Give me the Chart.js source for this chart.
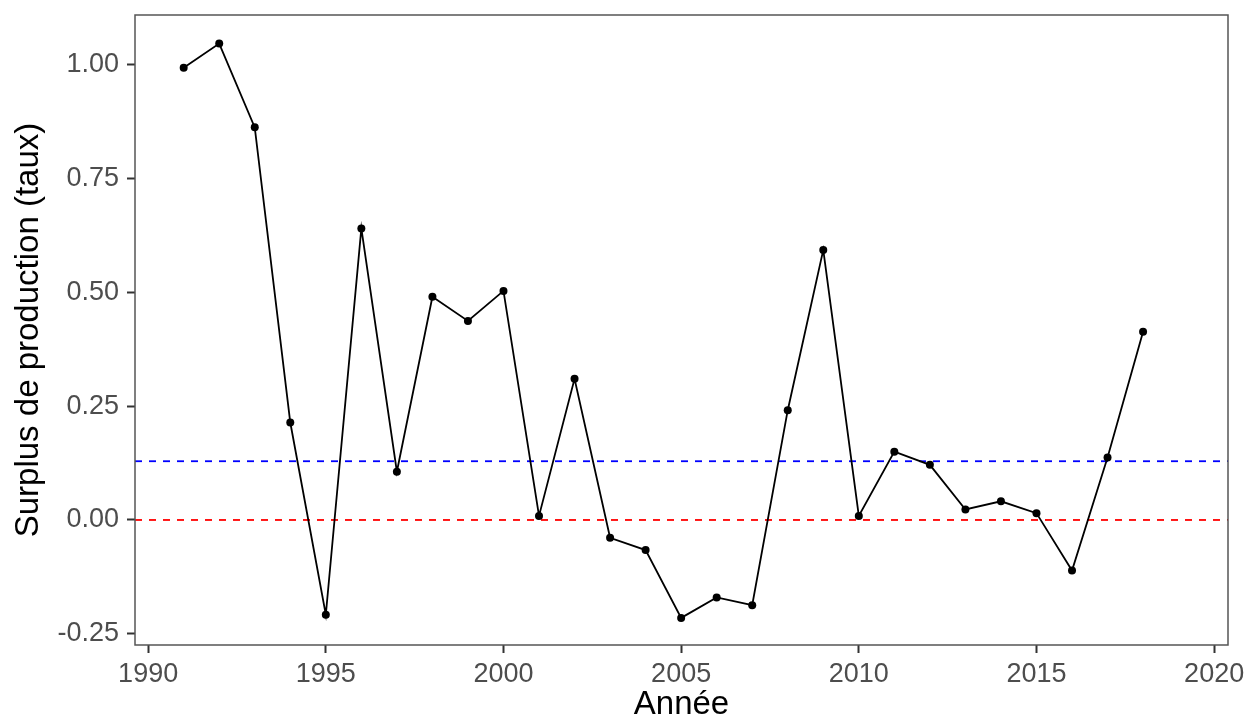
<!DOCTYPE html>
<html lang="fr">
<head>
<meta charset="utf-8">
<title>Surplus de production</title>
<script src="https://cdn.jsdelivr.net/npm/chart.js@4.4.1/dist/chart.umd.min.js"></script>
<style>
  html, body { margin: 0; padding: 0; background: #fff; }
  #wrap { width: 1249px; height: 726px; }
</style>
</head>
<body>
<div id="wrap"><canvas id="surplus-chart" width="1249" height="726"></canvas></div>
<script>
// Values
const annees = [1991, 1992, 1993, 1994, 1995, 1996, 1997, 1998, 1999, 2000,
                2001, 2002, 2003, 2004, 2005, 2006, 2007, 2008, 2009, 2010,
                2011, 2012, 2013, 2014, 2015, 2016, 2017, 2018];
const surplus = [0.993, 1.046, 0.862, 0.214, -0.208, 0.640, 0.106, 0.490, 0.437, 0.503,
                 0.009, 0.310, -0.039, -0.066, -0.215, -0.170, -0.187, 0.241, 0.593, 0.009,
                 0.150, 0.121, 0.023, 0.041, 0.015, -0.111, 0.137, 0.413];
const moyenne = 0.129;   // blue dashed line
const reference = 0;     // red dashed line
const xTicks = [1990, 1995, 2000, 2005, 2010, 2015, 2020];
const yTicks = [-0.25, 0, 0.25, 0.5, 0.75, 1.0];
const xLimits = [1989.63, 2020.39];
const yLimits = [-0.2745, 1.1087];

const fontFamily = "'Liberation Sans', Arial, Helvetica, sans-serif";

// ggplot-like panel border around the plot area
const panelBorder = {
    id: 'panelBorder',
    afterDatasetsDraw(chart) {
        const { ctx, chartArea: a } = chart;
        ctx.save();
        ctx.strokeStyle = '#555555';
        ctx.lineWidth = 1.5;
        ctx.strokeRect(a.left, a.top, a.right - a.left, a.bottom - a.top);
        ctx.restore();
    }
};

const hline = (value, color) => ({
    data: [{ x: xLimits[0], y: value }, { x: xLimits[1], y: value }],
    borderColor: color,
    borderWidth: 1.8,
    borderDash: [7, 7],
    pointRadius: 0,
    fill: false
});

const ctx = document.getElementById('surplus-chart').getContext('2d');
new Chart(ctx, {
    type: 'line',
    data: {
        datasets: [
            {
                data: annees.map((a, i) => ({ x: a, y: surplus[i] })),
                borderColor: '#000000',
                borderWidth: 1.8,
                pointRadius: 4,
                pointBackgroundColor: '#000000',
                pointBorderWidth: 0,
                tension: 0,
                fill: false
            },
            hline(moyenne, '#0000ff'),
            hline(reference, '#ff0000')
        ]
    },
    options: {
        responsive: false,
        animation: false,
        layout: { padding: { left: 0, right: 21, top: 15, bottom: 0 } },
        plugins: {
            legend: { display: false },
            tooltip: { enabled: false }
        },
        scales: {
            x: {
                type: 'linear',
                min: xLimits[0],
                max: xLimits[1],
                afterBuildTicks: (scale) => { scale.ticks = xTicks.map(v => ({ value: v })); },
                afterFit: (scale) => {
                    scale.height = 81;
                    scale.paddingLeft = 0;
                    scale.paddingRight = 0;
                },
                border: { display: false },
                grid: {
                    drawOnChartArea: false,
                    drawTicks: true,
                    tickLength: 8,
                    tickWidth: 2,
                    tickColor: '#333333'
                },
                ticks: {
                    padding: 5,
                    maxRotation: 0,
                    color: '#4d4d4d',
                    font: { family: fontFamily, size: 27 },
                    callback: (v) => String(v)
                },
                title: {
                    display: true,
                    text: 'Année',
                    color: '#000000',
                    padding: { top: 0, bottom: 1 },
                    font: { family: fontFamily, size: 33 }
                }
            },
            y: {
                min: yLimits[0],
                max: yLimits[1],
                afterBuildTicks: (scale) => { scale.ticks = yTicks.map(v => ({ value: v })); },
                afterFit: (scale) => {
                    scale.width = 135;
                    scale.paddingTop = 0;
                    scale.paddingBottom = 0;
                },
                border: { display: false },
                grid: {
                    drawOnChartArea: false,
                    drawTicks: true,
                    tickLength: 8,
                    tickWidth: 2,
                    tickColor: '#333333'
                },
                ticks: {
                    padding: 8,
                    color: '#4d4d4d',
                    font: { family: fontFamily, size: 27 },
                    callback: (v) => Number(v).toFixed(2)
                },
                title: {
                    display: true,
                    text: 'Surplus de production (taux)',
                    color: '#000000',
                    padding: { top: 9, bottom: 0 },
                    font: { family: fontFamily, size: 33 }
                }
            }
        }
    },
    plugins: [panelBorder]
});
</script>
</body>
</html>
